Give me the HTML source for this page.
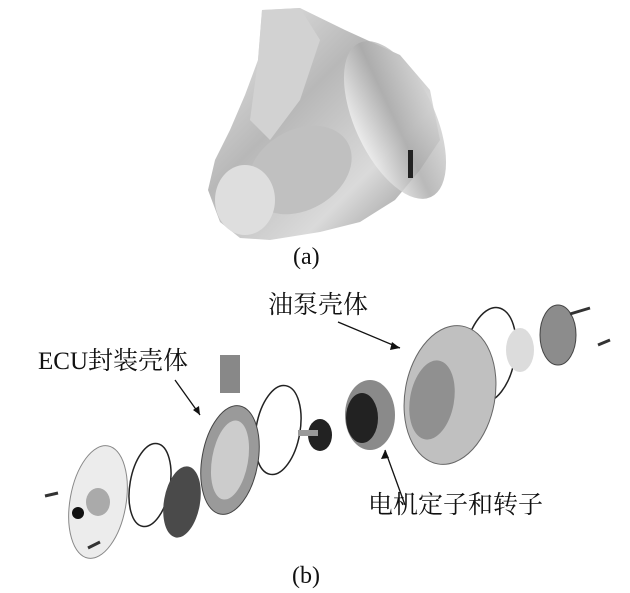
<!DOCTYPE html>
<html><head><meta charset="utf-8"><style>
body{margin:0;background:#fff;width:630px;height:593px;overflow:hidden}
.t{position:absolute;font-family:"Liberation Serif","Noto Serif CJK SC",serif;color:#111;white-space:nowrap}
</style></head><body>
<svg width="630" height="593" style="position:absolute;left:0;top:0">
<defs>
<linearGradient id="m" x1="0" y1="0" x2="1" y2="1">
<stop offset="0" stop-color="#eeeeee"/><stop offset="0.4" stop-color="#b8b8b8"/><stop offset="0.7" stop-color="#dadada"/><stop offset="1" stop-color="#858585"/></linearGradient>
<linearGradient id="m2" x1="0" y1="0" x2="1" y2="0">
<stop offset="0" stop-color="#f2f2f2"/><stop offset="0.5" stop-color="#a8a8a8"/><stop offset="1" stop-color="#d0d0d0"/></linearGradient>
</defs>
<polygon points="262,10 300,8 345,30 400,55 430,90 440,140 420,170 395,200 360,222 320,232 270,240 240,238 220,222 208,190 215,160 230,130 245,95 258,60" fill="url(#m)"/>
<polygon points="262,10 300,8 320,40 300,100 270,140 250,120 258,60" fill="#d2d2d2"/>
<ellipse cx="395" cy="120" rx="40" ry="85" transform="rotate(-25 395 120)" fill="url(#m2)" opacity="0.8"/>
<ellipse cx="300" cy="170" rx="55" ry="40" transform="rotate(-30 300 170)" fill="#c0c0c0"/>
<ellipse cx="245" cy="200" rx="30" ry="35" fill="#dedede"/>
<rect x="408" y="150" width="5" height="28" fill="#222"/>
<g fill="none" stroke="#222" stroke-width="1.5">
<ellipse cx="150" cy="485" rx="20" ry="42" transform="rotate(10 150 485)"/>
<ellipse cx="278" cy="430" rx="22" ry="45" transform="rotate(10 278 430)"/>
<ellipse cx="490" cy="355" rx="25" ry="48" transform="rotate(10 490 355)"/>
</g>
<ellipse cx="98" cy="502" rx="28" ry="57" transform="rotate(10 98 502)" fill="#ececec" stroke="#888"/>
<ellipse cx="98" cy="502" rx="12" ry="14" fill="#aaa"/>
<circle cx="78" cy="513" r="6" fill="#111"/>
<ellipse cx="182" cy="502" rx="18" ry="36" transform="rotate(10 182 502)" fill="#4a4a4a"/>
<ellipse cx="230" cy="460" rx="28" ry="55" transform="rotate(10 230 460)" fill="#9a9a9a" stroke="#444"/>
<ellipse cx="230" cy="460" rx="18" ry="40" transform="rotate(10 230 460)" fill="#cccccc"/>
<rect x="220" y="355" width="20" height="38" fill="#888"/>
<ellipse cx="320" cy="435" rx="12" ry="16" fill="#222"/>
<rect x="298" y="430" width="20" height="6" fill="#999"/>
<ellipse cx="370" cy="415" rx="25" ry="35" fill="#8a8a8a"/>
<ellipse cx="362" cy="418" rx="16" ry="25" fill="#222"/>
<ellipse cx="450" cy="395" rx="45" ry="70" transform="rotate(10 450 395)" fill="#c0c0c0" stroke="#666"/>
<ellipse cx="432" cy="400" rx="22" ry="40" transform="rotate(10 432 400)" fill="#909090"/>
<ellipse cx="520" cy="350" rx="14" ry="22" fill="#dcdcdc"/>
<ellipse cx="558" cy="335" rx="18" ry="30" fill="#8c8c8c" stroke="#444"/>
<g stroke="#333" stroke-width="3">
<line x1="45" y1="496" x2="58" y2="493"/><line x1="88" y1="548" x2="100" y2="542"/>
<line x1="570" y1="314" x2="590" y2="308"/><line x1="598" y1="345" x2="610" y2="340"/>
</g>
<g stroke="#111" stroke-width="1.3">
<line x1="175" y1="380" x2="200" y2="415"/><line x1="405" y1="505" x2="385" y2="450"/><line x1="338" y1="322" x2="400" y2="348"/>
</g>
<polygon points="200,415 193,410 199,406" fill="#111"/>
<polygon points="385,450 381,459 389,458" fill="#111"/>
<polygon points="400,348 392,342 390,350" fill="#111"/>
</svg>
<div class="t" style="left:293px;top:244px;font-size:24px">(a)</div>
<div class="t" style="left:268px;top:285px;font-size:25px">油泵壳体</div>
<div class="t" style="left:38px;top:341px;font-size:25px">ECU封装壳体</div>
<div class="t" style="left:368px;top:485px;font-size:25px">电机定子和转子</div>
<div class="t" style="left:292px;top:563px;font-size:24px">(b)</div>
</body></html>
